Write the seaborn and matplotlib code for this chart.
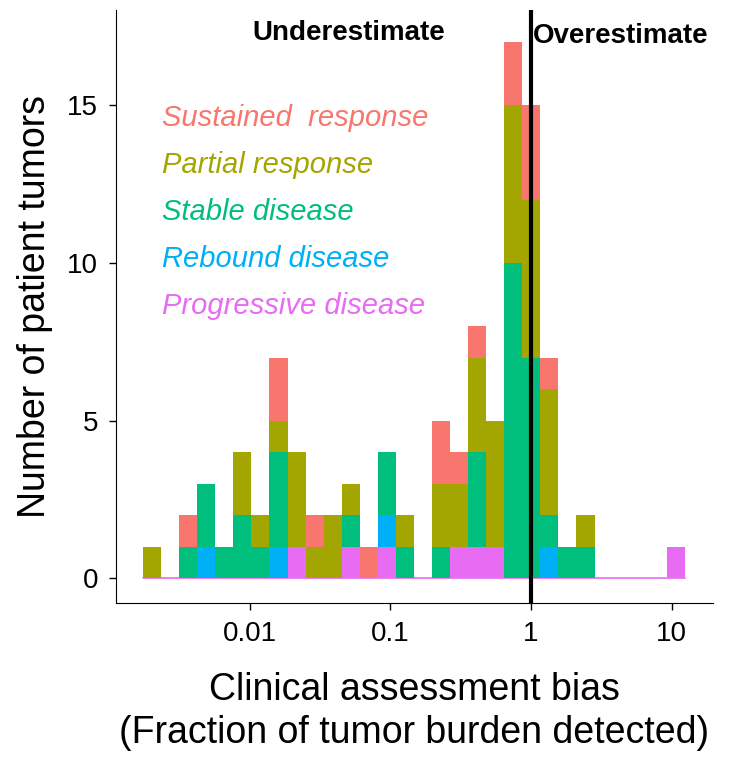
import numpy as np
import pandas as pd
import matplotlib
matplotlib.use("Agg")
import matplotlib.pyplot as plt
import seaborn as sns

# Bin layout on log10 scale (30 bins)
bin_lo, bin_hi, n_bins = -2.758, 1.094, 30

categories = ["Sustained  response", "Partial response", "Stable disease",
              "Rebound disease", "Progressive disease"]
colors = ["#F8766D", "#A3A500", "#00BF7D", "#00B0F6", "#E76BF3"]

# counts per bin for each response category
sustained   = [0,0,1,0,0,0,0,2,0,1,0,0,1,0,0,0,2,1,1,0,2,3,1,0,0,0,0,0,0,0]
partial     = [1,0,0,0,0,2,1,1,3,1,2,1,0,0,1,0,2,2,3,4,5,5,4,0,1,0,0,0,0,0]
stable      = [0,0,1,2,1,2,1,3,0,0,0,1,0,2,1,0,1,0,3,0,10,7,1,1,1,0,0,0,0,0]
rebound     = [0,0,0,1,0,0,0,1,0,0,0,0,0,1,0,0,0,0,0,0,0,0,1,0,0,0,0,0,0,0]
progressive = [0,0,0,0,0,0,0,0,1,0,0,1,0,1,0,0,0,1,1,1,0,0,0,0,0,0,0,0,0,1]

edges = np.linspace(bin_lo, bin_hi, n_bins + 1)
centers = (edges[:-1] + edges[1:]) / 2
rows = []
for cat, counts in zip(categories, [sustained, partial, stable, rebound, progressive]):
    for c, n in zip(centers, counts):
        rows += [(10 ** c, cat)] * n
df = pd.DataFrame(rows, columns=["bias", "response"])

sns.set_style("ticks")
plt.rcParams["font.family"] = ["Liberation Sans", "DejaVu Sans"]
plt.rcParams["text.color"] = "black"
plt.rcParams["axes.labelcolor"] = "black"
plt.rcParams["xtick.color"] = "black"
plt.rcParams["ytick.color"] = "black"
plt.rcParams["axes.edgecolor"] = "black"

fig = plt.figure(figsize=(7.43, 7.72), dpi=100)
ax = fig.add_axes([116 / 743, 1 - 603 / 772, 597 / 743, 593 / 772])
sns.histplot(data=df, x="bias", hue="response", hue_order=categories,
             palette=dict(zip(categories, colors)), multiple="stack",
             bins=edges, log_scale=True, linewidth=0, alpha=1,
             legend=False, ax=ax)
ax.plot(10 ** edges[[0, -1]], [0, 0], color="#E76BF3", lw=1.2, zorder=0)
ax.axvline(1, color="black", lw=3)

ax.set_xlim(10 ** -2.95, 10 ** 1.294)
ax.set_ylim(-0.79, 18.03)
ax.set_xticks([0.01, 0.1, 1, 10])
ax.set_xticklabels(["0.01", "0.1", "1", "10"])
ax.minorticks_off()
ax.set_yticks([0, 5, 10, 15])
ax.tick_params(labelsize=20, length=5, width=1, pad=8)
ax.set_xlabel("Clinical assessment bias\n(Fraction of tumor burden detected)",
              fontsize=27, labelpad=18, linespacing=1.25)
ax.set_ylabel("Number of patient tumors", fontsize=27, labelpad=10)
sns.despine(ax=ax)

ax.text(0.245, 17.3, "Underestimate", ha="right", va="center",
        fontsize=20, fontweight="bold")
ax.text(1.03, 17.2, "Overestimate", ha="left", va="center",
        fontsize=20, fontweight="bold")
for i, (cat, col) in enumerate(zip(categories, colors)):
    ax.text(0.0024, 14.6 - i * 1.49, cat, color=col, fontsize=21,
            style="italic", va="center")

fig.savefig("out.png", dpi=100)
